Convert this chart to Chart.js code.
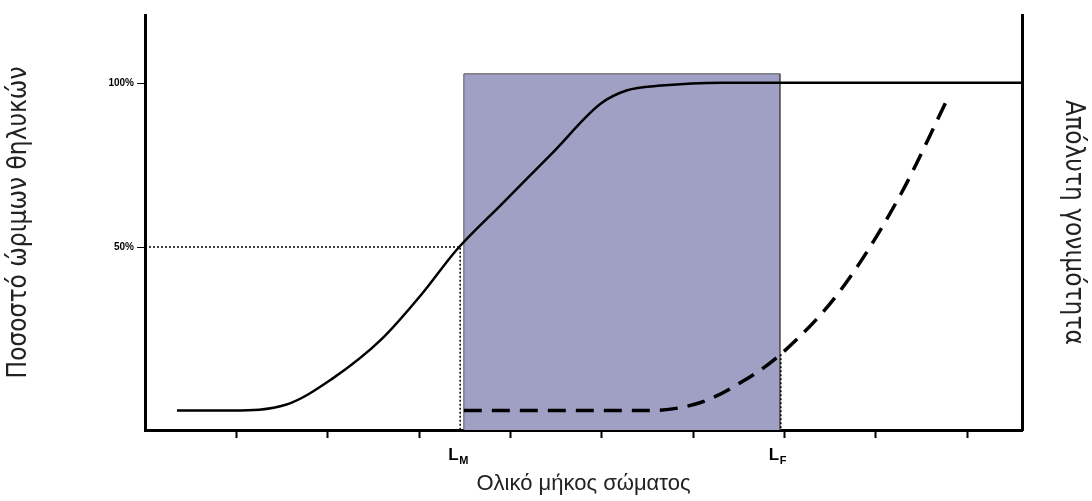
<!DOCTYPE html>
<html><head><meta charset="utf-8">
<script src="https://cdn.jsdelivr.net/npm/chart.js@4.4.0/dist/chart.umd.min.js"></script>
<style>body{margin:0;background:#fff}#wrap{width:1092px;height:501px}</style>
</head><body><div id="wrap"><canvas id="c"></canvas></div>
<script>
// body length in tick units, percent mature
const maturityX = [0.35, 0.95, 1.55, 2.04, 2.59, 3.03, 3.41, 3.90, 4.45, 4.99, 5.27, 5.65, 6.31, 9.6];
const maturityY = [0, 0, 1.8, 9.5, 21.8, 35.6, 49.1, 63, 78.5, 93.9, 97.9, 99.4, 100.3, 100.3];
const fecundityX = [3.49, 4.5, 5.54, 6.09, 6.52, 6.96, 7.62, 8.27, 8.77];
const fecundityY = [0, 0, 0, 2.5, 8.5, 17.2, 37, 66, 94.5];
const LM = 3.45, LF = 6.96;
const boxX = [3.49, 3.49, 6.95, 6.95];
const boxY = [-6, 103, 103, -6];
const xTicks = [1, 2, 3, 4, 5, 6, 7, 8, 9];
const yTicks = [50, 100];
const yLabels = {50: "50%", 100: "100%"};

const pts = (xs, ys) => xs.map((x, i) => ({x: x, y: ys[i]}));

const labelsPlugin = {
  id: "lmlf",
  afterDraw(chart) {
    const ctx = chart.ctx, xs = chart.scales.x;
    ctx.save();
    ctx.fillStyle = "#000";
    [["L", "M", LM], ["L", "F", LF]].forEach(([a, b, v]) => {
      const px = xs.getPixelForValue(v) - 8;
      ctx.font = "bold 17px 'Liberation Sans', Arial";
      ctx.textBaseline = "alphabetic";
      ctx.fillText(a, px - 4, 460);
      ctx.font = "bold 11px 'Liberation Sans', Arial";
      ctx.fillText(b, px + 7, 464);
    });
    ctx.restore();
  }
};

new Chart(document.getElementById("c"), {
  type: "scatter",
  data: {
    datasets: [
      {data: pts(boxX, boxY), showLine: true, fill: "start", backgroundColor: "rgb(160,160,196)",
       borderColor: "#555", borderWidth: 1, pointRadius: 0, tension: 0, order: 10},
      {data: [{x: 0, y: 50}, {x: LM, y: 50}, {x: LM, y: -6}], showLine: true, borderColor: "#000",
       borderWidth: 1.5, borderDash: [2, 2], pointRadius: 0, order: 3},
      {data: [{x: LF, y: 17.2}, {x: LF, y: -6}], showLine: true, borderColor: "#000",
       borderWidth: 1.5, borderDash: [2, 2], pointRadius: 0, order: 3},
      {data: pts(maturityX, maturityY), showLine: true, borderColor: "#000", borderWidth: 2.5,
       pointRadius: 0, cubicInterpolationMode: "monotone", order: 1},
      {data: pts(fecundityX, fecundityY), showLine: true, borderColor: "#000", borderWidth: 3.5,
       borderDash: [18, 10], pointRadius: 0, cubicInterpolationMode: "monotone", order: 1}
    ]
  },
  options: {
    responsive: true, maintainAspectRatio: false, animation: false,
    layout: {padding: {top: 15, right: 0, left: 0, bottom: 0}},
    plugins: {legend: {display: false}, tooltip: {enabled: false}},
    scales: {
      x: {
        type: "linear", min: 0, max: 9.6,
        afterBuildTicks: s => { s.ticks = xTicks.map(v => ({value: v})); },
        afterFit: s => { s.height = 71; },
        ticks: {callback: () => "", padding: 0},
        grid: {drawOnChartArea: false, tickLength: 8, color: "#000", tickWidth: 2},
        border: {color: "#000", width: 3},
        title: {display: true, text: "Ολικό μήκος σώματος", font: {size: 22, family: "'Liberation Sans', Arial"}, color: "#222", padding: {top: 0, bottom: 4}}
      },
      y: {
        min: -6, max: 121,
        afterBuildTicks: s => { s.ticks = yTicks.map(v => ({value: v})); },
        afterFit: s => { s.width = 145; },
        ticks: {callback: v => yLabels[v] || "", font: {size: 10, weight: "bold", family: "'Liberation Sans', Arial"}, color: "#000"},
        grid: {drawOnChartArea: false, tickLength: 8, color: "#000"},
        border: {color: "#000", width: 3},
        title: {display: true, text: "Ποσοστό ώριμων θηλυκών", font: {size: 26, family: "'Liberation Sans Narrow', 'DejaVu Sans Condensed', 'Liberation Sans', Arial"}, color: "#222"}
      },
      y2: {
        position: "right", min: -6, max: 121,
        afterFit: s => { s.width = 70; },
        ticks: {display: false},
        grid: {display: false},
        border: {color: "#000", width: 3},
        title: {display: true, text: "Απόλυτη γονιμότητα", font: {size: 26, family: "'Liberation Sans Narrow', 'DejaVu Sans Condensed', 'Liberation Sans', Arial"}, color: "#222"}
      }
    }
  },
  plugins: [labelsPlugin]
});
</script></body></html>
